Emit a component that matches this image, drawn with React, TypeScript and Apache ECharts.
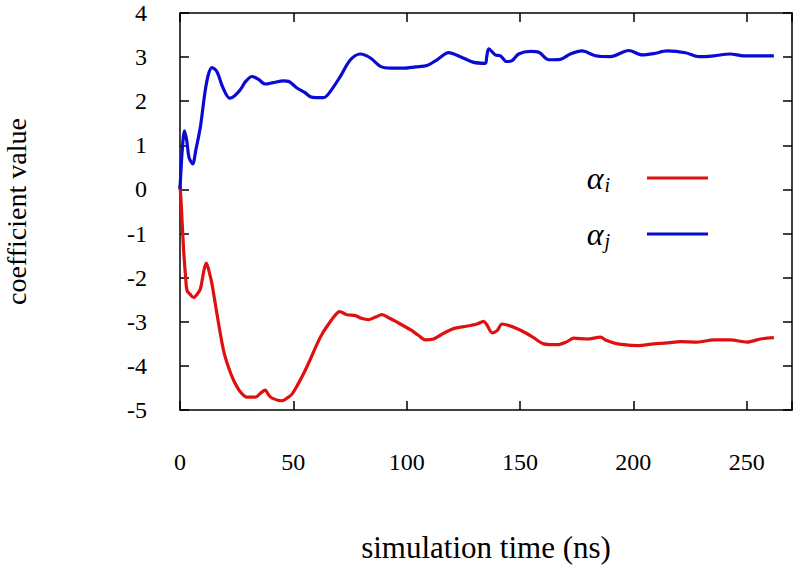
import React, { useEffect, useRef } from "react";
import * as echarts from "echarts";

const alphaJ_t = [0, 1, 2, 3, 4, 5.6, 7, 9, 11, 12.5, 14.1, 16.3, 19, 21.9, 24, 26.6, 29, 31.8, 34.5, 37.6, 41, 45.7, 47.9, 51.6, 55, 57.5, 60, 63.4, 66.3, 70.7, 75.2, 79.6, 84, 88.4, 93, 98.7, 104, 109, 113.4, 118.5, 123.7, 129.6, 134.7, 135.3, 136.2, 139.1, 141.4, 144, 146.5, 149.4, 154.6, 158.3, 162.7, 167.8, 172.2, 177.4, 183.3, 189.9, 198, 203.9, 209, 214.9, 223, 228.9, 235.5, 242.8, 248.7, 255, 262];
const alphaJ_v = [0.0, 0.9, 1.33, 1.1, 0.72, 0.58, 0.9, 1.42, 2.2, 2.6, 2.76, 2.67, 2.3, 2.07, 2.12, 2.26, 2.45, 2.56, 2.5, 2.39, 2.42, 2.46, 2.45, 2.3, 2.2, 2.1, 2.08, 2.08, 2.22, 2.56, 2.94, 3.07, 2.98, 2.79, 2.75, 2.75, 2.78, 2.81, 2.94, 3.1, 3.01, 2.88, 2.86, 3.0, 3.19, 3.05, 3.03, 2.9, 2.92, 3.07, 3.13, 3.11, 2.94, 2.95, 3.07, 3.14, 3.03, 3.01, 3.15, 3.05, 3.08, 3.14, 3.1, 3.01, 3.03, 3.07, 3.03, 3.03, 3.03];

const alphaI_t = [0, 0.5, 1.6, 2.5, 3.1, 4.5, 6, 7.5, 9, 10.5, 11.6, 12.8, 14.1, 16.3, 19.2, 21.5, 23.7, 26.5, 29.6, 33.2, 35.5, 37.6, 39, 40.6, 45, 47.5, 49.4, 52, 54.5, 57.5, 60.5, 63, 65.6, 68, 70.4, 73.7, 77.4, 80, 83.2, 86, 89.1, 92.5, 95.8, 101.6, 105, 108.2, 111.9, 115, 117.8, 121, 125.2, 131, 134, 135.5, 137.7, 139.9, 142.1, 146.5, 150.9, 156, 160.5, 166.4, 170.8, 173.7, 179.6, 185.5, 188, 192.1, 196, 201.7, 209, 215, 220.8, 228.2, 235.5, 242.8, 250.2, 256.1, 262];
const alphaI_v = [0.1, -0.3, -1.38, -2.0, -2.29, -2.38, -2.45, -2.38, -2.25, -1.85, -1.67, -1.85, -2.14, -2.82, -3.65, -4.05, -4.33, -4.58, -4.71, -4.71, -4.62, -4.55, -4.65, -4.73, -4.79, -4.72, -4.64, -4.42, -4.18, -3.85, -3.5, -3.25, -3.05, -2.88, -2.77, -2.84, -2.86, -2.92, -2.95, -2.9, -2.84, -2.92, -3.01, -3.18, -3.3, -3.41, -3.39, -3.3, -3.22, -3.15, -3.11, -3.05, -2.99, -3.08, -3.25, -3.2, -3.05, -3.11, -3.21, -3.36, -3.5, -3.52, -3.45, -3.37, -3.39, -3.35, -3.42, -3.49, -3.52, -3.54, -3.5, -3.48, -3.45, -3.46, -3.41, -3.41, -3.46, -3.39, -3.36];

const seriesNames = ["αi", "αj"];
const seriesColors = ["#e01010", "#0a0ad2"];
const xTickInterval = 50;
const yTickInterval = 1;

const FONT = "'Liberation Serif', 'DejaVu Serif', serif";

export default function App() {
  const ref = useRef<HTMLDivElement>(null);
  useEffect(() => {
    if (!ref.current) return;
    const chart = echarts.init(ref.current, null, { renderer: "svg" });
    const zip = (t: number[], v: number[]) => t.map((x, i) => [x, v[i]]);
    const axisLine = { show: true, onZero: false, lineStyle: { color: "#000", width: 1.5 } };
    const tick = { show: true, inside: true, length: 9, lineStyle: { color: "#000", width: 1.5 } };
    chart.setOption({
      animation: false,
      backgroundColor: "#fff",
      grid: { left: 180, top: 13, right: 4, bottom: 158, containLabel: false, outerBoundsMode: "none" },
      legend: {
        orient: "vertical",
        right: 83,
        top: 157,
        align: "right",
        itemWidth: 61,
        itemHeight: 3,
        itemGap: 23,
        icon: "rect",
        data: seriesNames,
        formatter: (name: string) => `{a|α}{s|${name.slice(1)}}{sp|}`,
        textStyle: {
          rich: {
            a: { fontFamily: FONT, fontStyle: "italic", fontSize: 32, color: "#000", lineHeight: 34 },
            s: { fontFamily: FONT, fontStyle: "italic", fontSize: 20, color: "#000", verticalAlign: "bottom", padding: [12, 0, 0, 1] },
            sp: { width: 32 },
          },
        },
      },
      xAxis: [
        {
          type: "value",
          min: 0,
          max: 270,
          interval: xTickInterval,
          position: "bottom",
          axisLine,
          axisTick: tick,
          splitLine: { show: false },
          axisLabel: {
            margin: 40,
            fontFamily: FONT,
            fontSize: 24,
            color: "#000",
            formatter: (v: number) => (v % xTickInterval === 0 ? String(v) : ""),
          },
          name: "simulation time (ns)",
          nameLocation: "middle",
          nameGap: 122,
          nameTextStyle: { fontFamily: FONT, fontSize: 31, color: "#000" },
        },
        {
          type: "value",
          min: 0,
          max: 270,
          interval: xTickInterval,
          position: "top",
          axisLine,
          axisTick: tick,
          splitLine: { show: false },
          axisLabel: { show: false },
        },
      ],
      yAxis: [
        {
          type: "value",
          min: -5,
          max: 4,
          interval: yTickInterval,
          position: "left",
          axisLine,
          axisTick: tick,
          splitLine: { show: false },
          axisLabel: { margin: 33, fontFamily: FONT, fontSize: 24, color: "#000" },
          name: "coefficient value",
          nameLocation: "middle",
          nameGap: 150,
          nameTextStyle: { fontFamily: FONT, fontSize: 28, color: "#000" },
        },
        {
          type: "value",
          min: -5,
          max: 4,
          interval: yTickInterval,
          position: "right",
          axisLine,
          axisTick: tick,
          splitLine: { show: false },
          axisLabel: { show: false },
        },
      ],
      series: [
        {
          name: seriesNames[0],
          type: "line",
          data: zip(alphaI_t, alphaI_v),
          symbol: "none",
          smooth: 0.3,
          lineStyle: { color: seriesColors[0], width: 3.2 },
          itemStyle: { color: seriesColors[0] },
        },
        {
          name: seriesNames[1],
          type: "line",
          data: zip(alphaJ_t, alphaJ_v),
          symbol: "none",
          smooth: 0.3,
          lineStyle: { color: seriesColors[1], width: 3.2 },
          itemStyle: { color: seriesColors[1] },
        },
      ],
    });
    return () => chart.dispose();
  }, []);
  return <div ref={ref} style={{ position: "fixed", left: 0, top: 0, width: 796, height: 568 }} />;
}
